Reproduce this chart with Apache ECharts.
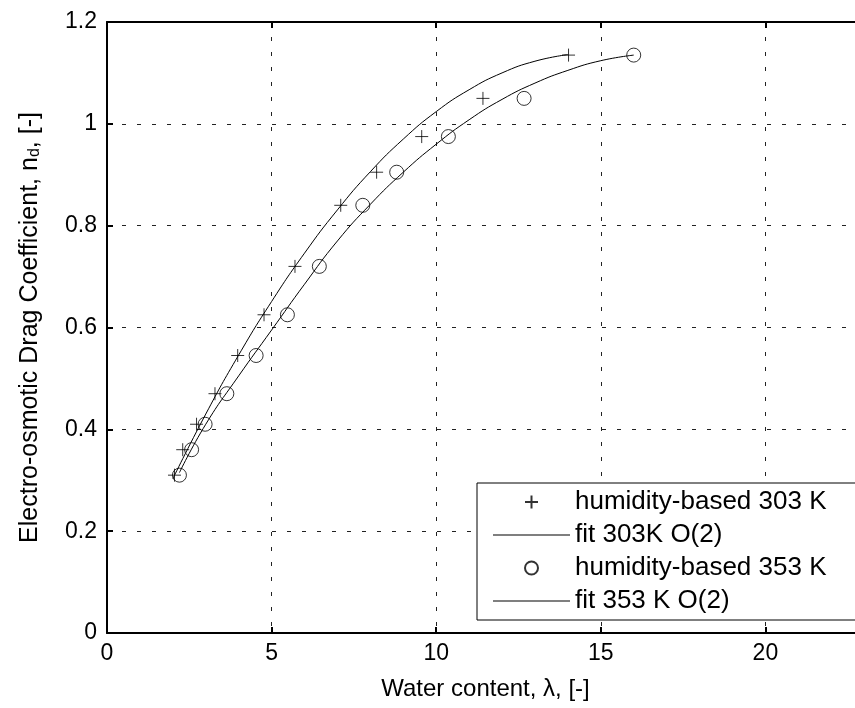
<!DOCTYPE html>
<html>
<head>
<meta charset="utf-8">
<script src="https://cdn.jsdelivr.net/npm/echarts@6/dist/echarts.min.js"></script>
<style>
html,body{margin:0;padding:0;background:#fff;overflow:hidden;width:855px;height:708px;}
#c{width:930px;height:708px;}
</style>
</head>
<body>
<div id="c"></div>
<script>
const nd = [0.31, 0.36, 0.41, 0.47, 0.545, 0.625, 0.72, 0.84, 0.905, 0.975, 1.05, 1.135];
const lambda303 = [2.05, 2.3, 2.72, 3.28, 3.97, 4.77, 5.71, 7.10, 8.19, 9.56, 11.42, 14.02];
const lambda353 = [2.2, 2.57, 2.98, 3.64, 4.53, 5.48, 6.45, 7.77, 8.80, 10.37, 12.67, 16.0];
// fitted curves
const fit303X = [2, 3, 4, 5, 6, 7, 8, 9, 10, 11, 12, 13, 14];
const fit303Y = [0.303, 0.430, 0.546, 0.651, 0.746, 0.831, 0.906, 0.970, 1.024, 1.067, 1.100, 1.123, 1.136];
const fit353X = [2.2, 3, 4, 5, 6, 7, 8, 9, 10, 11, 12, 13, 14, 15, 16];
const fit353Y = [0.315, 0.410, 0.505, 0.595, 0.685, 0.770, 0.842, 0.905, 0.960, 1.008, 1.048, 1.080, 1.105, 1.124, 1.135];
const seriesNames = ['humidity-based 303 K', 'fit 303K O(2)', 'humidity-based 353 K', 'fit 353 K O(2)'];
const xTickStep = 5, yTickStep = 0.2;

const pair = (xs, ys) => xs.map((x, i) => [x, ys[i]]);
const FONT = 'Liberation Sans';
const FS = 23;
const plusPath = 'path://M0,6L12,6M6,0L6,12';
const lineIcon = 'path://M0,0H100V1.6H0Z';
const markStyle = {color: 'rgba(0,0,0,0)', borderColor: '#000', borderWidth: 1};

const chart = echarts.init(document.getElementById('c'), null, {renderer: 'canvas'});
chart.setOption({
  backgroundColor: '#fff',
  animation: false,
  textStyle: {fontFamily: FONT},
  grid: {left: 107, right: 0, top: 22, bottom: 75, outerBoundsMode: 'none', containLabel: false},
  xAxis: [{
    type: 'value', min: 0, max: 25, interval: xTickStep, position: 'bottom',
    name: 'Water content, λ, [-]', nameLocation: 'middle', nameGap: 44,
    nameTextStyle: {fontSize: 24, color: '#000', fontFamily: FONT, padding: [0, 66, 0, 0]},
    axisLine: {show: true, lineStyle: {color: '#000', width: 2}},
    axisTick: {show: true, inside: true, length: 6, lineStyle: {color: '#000', width: 2}},
    axisLabel: {fontSize: FS, color: '#000', margin: 9, fontFamily: FONT},
    splitLine: {show: true, lineStyle: {color: '#222', width: 1, type: [4, 11]}}
  }, {
    type: 'value', min: 0, max: 25, interval: xTickStep, position: 'top',
    axisLine: {show: true, onZero: false, lineStyle: {color: '#000', width: 2}},
    axisTick: {show: true, inside: true, length: 6, lineStyle: {color: '#000', width: 2}},
    axisLabel: {show: false}, splitLine: {show: false}
  }],
  yAxis: [{
    type: 'value', min: 0, max: 1.2, interval: yTickStep,
    name: 'Electro-osmotic Drag Coefficient, n{sub|d}, [-]', nameLocation: 'middle', nameGap: 64,
    nameTextStyle: {fontSize: 25, color: '#000', fontFamily: FONT,
      rich: {sub: {fontSize: 16, color: '#000', fontFamily: FONT, verticalAlign: 'bottom', padding: [10, 0, 0, 0]}}},
    axisLine: {show: true, lineStyle: {color: '#000', width: 2}},
    axisTick: {show: true, inside: true, length: 6, lineStyle: {color: '#000', width: 2}},
    axisLabel: {fontSize: FS, color: '#000', margin: 10, fontFamily: FONT},
    splitLine: {show: true, lineStyle: {color: '#222', width: 1, type: [4, 11]}}
  }],
  legend: {
    orient: 'vertical', left: 477, top: 483,
    padding: [6, 90, 6, 16],
    itemWidth: 77, itemHeight: 13, itemGap: 7,
    borderColor: '#000', borderWidth: 1, backgroundColor: '#fff',
    textStyle: {fontSize: 26, lineHeight: 26, color: '#000', fontFamily: FONT},
    data: [
      {name: seriesNames[0]},
      {name: seriesNames[1], icon: lineIcon, itemStyle: {color: '#000'}},
      {name: seriesNames[2]},
      {name: seriesNames[3], icon: lineIcon, itemStyle: {color: '#000'}}
    ]
  },
  series: [{
    name: seriesNames[0], type: 'scatter', data: pair(lambda303, nd),
    symbol: plusPath, symbolSize: 13, itemStyle: markStyle, z: 4
  }, {
    name: seriesNames[1], type: 'line', data: pair(fit303X, fit303Y), smooth: true,
    symbol: 'none', showSymbol: false, lineStyle: {color: '#000', width: 1}, itemStyle: {color: '#000'}, z: 3
  }, {
    name: seriesNames[2], type: 'scatter', data: pair(lambda353, nd),
    symbol: 'circle', symbolSize: 14, itemStyle: markStyle, z: 4
  }, {
    name: seriesNames[3], type: 'line', data: pair(fit353X, fit353Y), smooth: true,
    symbol: 'none', showSymbol: false, lineStyle: {color: '#000', width: 1}, itemStyle: {color: '#000'}, z: 3
  }]
});
</script>
</body>
</html>
